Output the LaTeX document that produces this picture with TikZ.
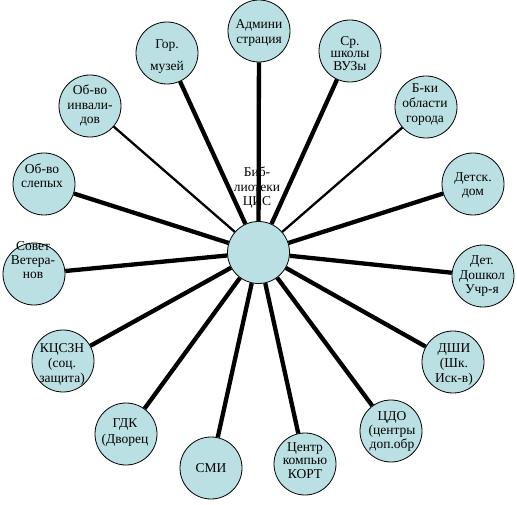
\documentclass[tikz,border=0pt]{standalone}
\usepackage{fontspec}
\setmainfont{Liberation Serif}
\definecolor{circfill}{HTML}{BBE0E3}
\tikzset{
  circ/.style={circle, draw=black, line width=0.8pt, fill=circfill, minimum size=62pt, inner sep=0pt},
  txt/.style={inner sep=0pt, font=\fontsize{13.5}{15}\selectfont},
  thickline/.style={line width=4.3pt},
  thinline/.style={line width=2.3pt}
}
\newcommand\txtlines[4]{\foreach \t [count=\i from 0] in {#4} {\node[txt, anchor=base] at (#1, #2+\i*#3) {\t};}}
\begin{document}
\begin{tikzpicture}[x=1pt, y=-1pt]
\useasboundingbox (0,0) rectangle (517,505);
\node[circ] (c) at (258.5,252.5) {};
\node[circ] (adm) at (259,31) {};
\node[circ] (muz) at (167,53) {};
\node[circ] (inv) at (90,106) {};
\node[circ] (slep) at (44,184) {};
\node[circ] (vet) at (34,274) {};
\node[circ] (kcszn) at (63,361) {};
\node[circ] (gdk) at (126,434) {};
\node[circ] (smi) at (211,468) {};
\node[circ] (kort) at (305,464) {};
\node[circ] (cdo) at (391,431) {};
\node[circ] (dshi) at (453,362) {};
\node[circ] (doshk) at (483,276) {};
\node[circ] (detdom) at (473,184) {};
\node[circ] (bki) at (426,107) {};
\node[circ] (shk) at (350,51) {};
\foreach \n in {adm,muz,slep,vet,kcszn,gdk,smi,kort,cdo,dshi,doshk,detdom,shk}
  \draw[thickline] (c) -- (\n);
\foreach \n in {inv,bki}
  \draw[thinline] (c) -- (\n);
\txtlines{259}{29}{14.5}{Админи,страция}
\txtlines{167}{49}{22}{Гор.,музей}
\txtlines{90}{95}{14.5}{Об-во,инвали-,дов}
\txtlines{42}{174}{14}{Об-во,слепых}
\txtlines{33}{251}{14}{Совет,Ветера-,нов}
\txtlines{62}{352}{15}{КЦСЗН,{(соц.},защита)}
\txtlines{125}{427}{16}{ГДК,{(Дворец}}
\txtlines{211}{472}{14}{СМИ}
\txtlines{305}{451}{13.5}{Центр,компью,КОРТ}
\txtlines{392}{420}{14}{ЦДО,{(центры},доп.обр}
\txtlines{454}{352}{15}{ДШИ,{(Шк.},Иск-в)}
\txtlines{482}{265}{14.5}{Дет.,Дошкол,Учр-я}
\txtlines{473}{182}{14}{Детск.,дом}
\txtlines{425}{93}{15}{Б-ки,области,города}
\txtlines{350}{45.5}{12.5}{Ср.,школы,ВУЗы}
\txtlines{257}{177}{14.5}{Биб-,лиотеки,ЦИС}
\end{tikzpicture}
\end{document}
